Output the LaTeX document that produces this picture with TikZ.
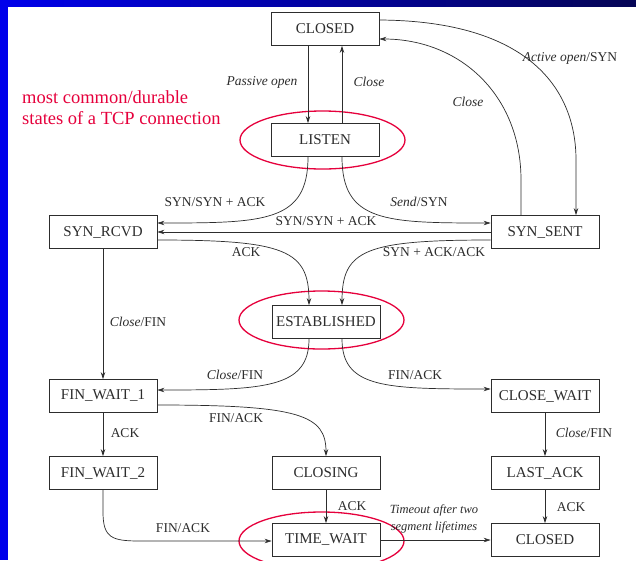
\documentclass[tikz,border=0pt]{standalone}
\usepackage{fontspec}
\setmainfont{Liberation Serif}
\usetikzlibrary{arrows.meta,calc}
\definecolor{ink}{RGB}{45,45,45}
\definecolor{annot}{RGB}{230,0,60}
\definecolor{barblue}{RGB}{0,0,235}
\definecolor{barnavy}{RGB}{5,5,85}
\begin{document}
\begin{tikzpicture}[x=1pt,y=-1pt,
  state/.style={draw=ink,line width=0.8pt,minimum width=108pt,minimum height=33pt,inner sep=0pt,
    text=ink,font=\fontsize{15}{17}\selectfont},
  lbl/.style={text=ink,font=\fontsize{13.5}{15}\selectfont,inner sep=0pt},
  edge/.style={draw=ink,line width=0.7pt,-{Stealth[length=7pt,width=4.5pt]}},
  ring/.style={draw=annot,line width=1.3pt}]
\useasboundingbox (0,0) rectangle (636,560);
\fill[white] (0,0) rectangle (636,560);
\begin{scope}
\clip (0,0) rectangle (636,560);
\shade[left color=barblue,right color=barnavy] (0,0) rectangle (636,6);
\fill[barblue] (0,0) rectangle (8,560);

% states
\node[state] (closedT) at (325,29) {CLOSED};
\node[state] (listen) at (325,140) {LISTEN};
\node[state] (synrcvd) at (103,232) {SYN\_RCVD};
\node[state] (synsent) at (545,232) {SYN\_SENT};
\node[state] (estab) at (326,322) {ESTABLISHED};
\node[state] (fw1) at (103,396) {FIN\_WAIT\_1};
\node[state] (closewait) at (545,396) {CLOSE\_WAIT};
\node[state] (fw2) at (103,473) {FIN\_WAIT\_2};
\node[state] (closing) at (326,473) {CLOSING};
\node[state] (lastack) at (545,473) {LAST\_ACK};
\node[state] (timewait) at (326,540) {TIME\_WAIT};
\node[state] (closedB) at (545,540) {CLOSED};

% annotation
\node[text=annot,font=\fontsize{18.5}{21}\selectfont,align=left,anchor=north west,inner sep=0pt] (note) at (22,90)
  {most common/durable\\states of a TCP connection};
\draw[ring] (322.5,140) ellipse [x radius=82.5pt, y radius=29pt];
\draw[ring] (321.5,320) ellipse [x radius=82.5pt, y radius=29pt];
\draw[ring] (321.5,541) ellipse [x radius=82.5pt, y radius=29pt];

% connectors
\draw[edge] ($(closedT.south)+(-17,0)$) -- ($(listen.north)+(-17,0)$);
\draw[edge] ($(listen.north)+(17,0)$) -- ($(closedT.south)+(17,0)$);
\draw[edge] ($(closedT.east)+(0,-9)$) .. controls (530,21) and (576,90) .. (576,160) -- ($(synsent.north)+(31,0)$);
\draw[edge] ($(synsent.north)+(-24,0)$) -- (521,180) .. controls (521,95) and (460,39) .. ($(closedT.east)+(0,10)$);
\draw[edge] ($(listen.south)+(-17,0)$) .. controls (308,222) and (265,223) .. ($(synrcvd.east)+(0,-9)$);
\draw[edge] ($(listen.south)+(17,0)$) .. controls (342,222) and (385,223) .. ($(synsent.west)+(0,-9)$);
\draw[edge] (synsent.west) -- (synrcvd.east);
\draw[edge] ($(synrcvd.east)+(0,8)$) .. controls (285,240) and (309,250) .. ($(estab.north)+(-17,0)$);
\draw[edge] ($(synsent.west)+(0,8)$) .. controls (365,240) and (342,250) .. ($(estab.north)+(16,0)$);
\draw[edge] (synrcvd.south) -- (fw1.north);
\draw[edge] ($(estab.south)+(-17,0)$) .. controls (309,388) and (265,390) .. ($(fw1.east)+(0,-6)$);
\draw[edge] ($(estab.south)+(16,0)$) .. controls (342,388) and (385,389) .. ($(closewait.west)+(0,-7)$);
\draw[edge] ($(fw1.east)+(0,9)$) .. controls (300,405) and (326,415) .. (closing.north);
\draw[edge] (fw1.south) -- (fw2.north);
\draw[edge] (closewait.south) -- (lastack.north);
\draw[edge] (closing.south) -- (timewait.north);
\draw[edge] (lastack.south) -- (closedB.north);
\draw[edge] (fw2.south) -- (103,512) .. controls (103,538) and (112,541) .. (140,541) -- ($(timewait.west)+(0,1)$);
\draw[edge] (timewait.east) -- (closedB.west);

% labels
\node[lbl] (l1) at (262,82) {\itshape Passive open};
\node[lbl] (l2) at (369,82) {\itshape Close};
\node[lbl] (l3) at (468,102) {\itshape Close};
\node[lbl] (l4) at (570,58) {\textit{Active open}/SYN};
\node[lbl] (l5) at (215,202) {SYN/SYN + ACK};
\node[lbl] (l6) at (419,202) {\textit{Send}/SYN};
\node[lbl] (l7) at (326,221) {SYN/SYN + ACK};
\node[lbl] (l8) at (246,252) {ACK};
\node[lbl] (l9) at (434,252) {SYN + ACK/ACK};
\node[lbl] (l10) at (138,322) {\textit{Close}/FIN};
\node[lbl] (l11) at (235,375) {\textit{Close}/FIN};
\node[lbl] (l12) at (415,375) {FIN/ACK};
\node[lbl] (l13) at (236,418) {FIN/ACK};
\node[lbl] (l14) at (125,433) {ACK};
\node[lbl] (l15) at (584,433) {\textit{Close}/FIN};
\node[lbl] (l16) at (352,506) {ACK};
\node[lbl] (l17) at (571,507) {ACK};
\node[lbl] (l18) at (183,528) {FIN/ACK};
\node[lbl,align=center,font=\fontsize{12.5}{17}\selectfont\itshape] (l19) at (434,519) {Timeout after two\\segment lifetimes};
\end{scope}
\end{tikzpicture}
\end{document}
